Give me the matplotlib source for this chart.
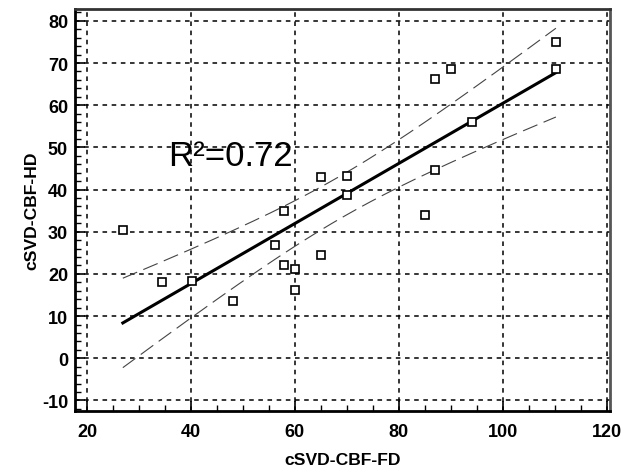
import numpy as np
import matplotlib
matplotlib.use("Agg")
import matplotlib.pyplot as plt
from matplotlib.ticker import MultipleLocator

plt.rcParams["axes.unicode_minus"] = False

# data
fd = [26.9, 34.4, 40.2, 48.1, 56.1, 57.9, 60.0, 60.0, 57.9, 65.0,
      65.0, 70.1, 70.1, 85.0, 86.9, 86.9, 90.1, 94.0, 110.2, 110.2]
hd = [30.5, 18.0, 18.4, 13.5, 26.8, 22.1, 21.2, 16.1, 34.8, 24.4,
      42.9, 43.3, 38.7, 34.0, 44.7, 66.3, 68.6, 56.0, 74.9, 68.6]
r2_text = "R²=0.72"
x_label = "cSVD-CBF-FD"
y_label = "cSVD-CBF-HD"
x_ticks = [20, 40, 60, 80, 100, 120]
y_ticks = [-10, 0, 10, 20, 30, 40, 50, 60, 70, 80]

x = np.array(fd)
y = np.array(hd)
n = len(x)
b, a = np.polyfit(x, y, 1)
xs = np.linspace(x.min(), x.max(), 200)
ys = a + b * xs
res = y - (a + b * x)
s = np.sqrt(np.sum(res ** 2) / (n - 2))
sxx = np.sum((x - x.mean()) ** 2)
tval = 2.101
half = tval * s * np.sqrt(1.0 / n + (xs - x.mean()) ** 2 / sxx)

fig = plt.figure(figsize=(6.26, 4.77), dpi=100)
ax = fig.add_axes([0.1198, 0.1363, 0.8546, 0.8427])
ax.set_xlim(17.7, 120.6)
ax.set_ylim(-12.5, 82.8)

ax.grid(True, which="major", color="black", linestyle=(0, (3, 3)), linewidth=1.1)
ax.set_axisbelow(True)

ax.plot(xs, ys, color="black", linewidth=2.2, zorder=3)
ax.plot(xs, ys + half, color="#444444", linewidth=0.8, linestyle=(0, (14, 6)), zorder=3)
ax.plot(xs, ys - half, color="#444444", linewidth=0.8, linestyle=(0, (14, 6)), zorder=3)
ax.plot(x, y, linestyle="none", marker="s", markersize=5.5, markerfacecolor="white",
        markeredgecolor="black", markeredgewidth=1.2, zorder=4)

ax.text(35.6, 45.9, r2_text, fontsize=25, family="Liberation Sans", color="black")

ax.set_xticks(x_ticks)
ax.set_yticks(y_ticks)
ax.xaxis.set_minor_locator(MultipleLocator(5))
ax.yaxis.set_minor_locator(MultipleLocator(2))
ax.tick_params(which="major", direction="in", length=7, width=1.2)
ax.tick_params(axis="x", which="major", pad=9)
ax.tick_params(axis="y", which="major", pad=5)
ax.tick_params(which="minor", direction="in", length=4, width=1.0)
for lab in ax.get_xticklabels() + ax.get_yticklabels():
    lab.set_family(["Liberation Sans Narrow", "Liberation Sans"])
    lab.set_fontweight("bold")
    lab.set_fontsize(13)

ax.set_xlabel(x_label, fontsize=12.6, fontweight="bold",
              family=["Liberation Sans Narrow", "Liberation Sans"], labelpad=8)
ax.set_ylabel(y_label, fontsize=12.6, fontweight="bold",
              family=["Liberation Sans Narrow", "Liberation Sans"], labelpad=2)

for sp in ax.spines.values():
    sp.set_linewidth(2)
    sp.set_color("black")
ax.spines["right"].set_color("#555555")
ax.spines["top"].set_color("#333333")

fig.savefig("out.png", dpi=100)
